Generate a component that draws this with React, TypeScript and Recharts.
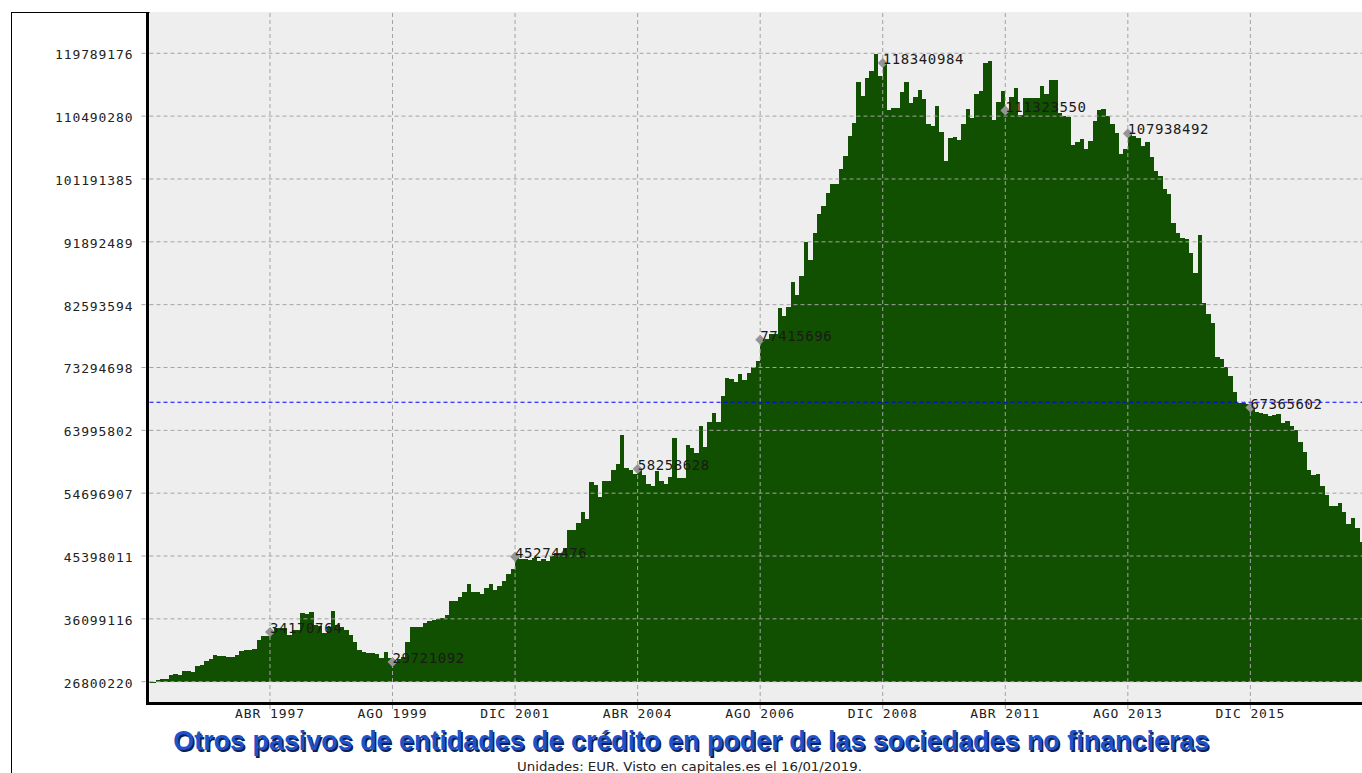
import React from 'react';
import { BarChart, Bar, XAxis, YAxis, CartesianGrid, ReferenceLine, ReferenceDot } from 'recharts';

// ---- data -------------------------------------------------------------
const MONTHS = ['ENE', 'FEB', 'MAR', 'ABR', 'MAY', 'JUN', 'JUL', 'AGO', 'SEP', 'OCT', 'NOV', 'DIC'];
const FIRST_YEAR = 1995; // month index 0 = ENE 1995
const FIRST_T = -1; // first bar is DIC 1994
const BASE = 26800220; // bars rise from this level

const Y_TICKS = [
  26800220, 36099116, 45398011, 54696907, 63995802, 73294698,
  82593594, 91892489, 101191385, 110490280, 119789176,
];
const X_TICKS = [27, 55, 83, 111, 139, 167, 195, 223, 251];
const MARKERS = [27, 55, 83, 111, 139, 167, 195, 223, 251];
const AVERAGE = 68150000;

// monthly values, millions of EUR
const V1994 = [26.7];
const V1995 = [26.7, 27.05, 27.2, 27.25, 27.84, 27.9, 27.84, 28.33, 28.33, 28.23, 29.08, 29.32];
const V1996 = [29.82, 30.21, 30.76, 30.56, 30.56, 30.41, 30.46, 30.71, 31.3, 31.45, 31.5, 31.65];
const V1997 = [33.03, 33.53, 33.63, 34.170764, 34.77, 34.7, 34.7, 33.73, 34.47, 34.47, 36.94, 36.8];
const V1998 = [37.09, 35.21, 35.0, 33.97, 34.96, 37.29, 35.21, 34.9, 34.47, 33.73, 32.74, 31.5];
const V1999 = [31.25, 31.1, 31.0, 30.86, 30.26, 31.25, 30.26, 29.721092, 30.2, 30.5, 32.74, 34.96];
const V2000 = [34.96, 34.9, 35.46, 35.85, 35.95, 36.05, 36.2, 36.7, 38.67, 38.8, 39.4, 40.0];
const V2001 = [41.2, 40.0, 40.0, 39.75, 40.7, 41.2, 40.4, 41.0, 41.7, 42.7, 43.5, 45.274476];
const V2002 = [45.0, 45.0, 44.8, 45.15, 44.66, 44.9, 44.66, 45.4, 45.9, 45.9, 46.63, 49.2];
const V2003 = [49.2, 50.3, 51.9, 50.9, 56.37, 55.98, 54.1, 56.47, 56.47, 58.19, 59.08, 63.26];
const V2004 = [58.44, 58.19, 57.6, 58.258628, 57.45, 56.0, 55.8, 58.0, 56.5, 56.1, 57.1, 62.8];
const V2005 = [56.9, 56.9, 61.8, 61.4, 60.7, 64.7, 61.5, 65.2, 66.5, 65.2, 69.1, 71.8];
const V2006 = [71.6, 71.2, 72.3, 71.5, 72.5, 73.35, 74.3, 77.415696, 77.5, 78.3, 78.3, 82.05];
const V2007 = [80.95, 82.2, 86.0, 84.0, 86.9, 91.8, 89.25, 93.2, 96.0, 97.2, 99.1, 100.5];
const V2008 = [100.4, 102.7, 104.6, 107.5, 109.5, 115.6, 113.5, 116.1, 117.2, 119.7, 116.5, 118.340984];
const V2009 = [111.4, 111.7, 111.7, 114.1, 115.6, 112.5, 113.3, 114.3, 113.0, 109.4, 109.1, 112.0];
const V2010 = [108.1, 103.9, 107.2, 107.4, 106.9, 109.4, 111.5, 110.2, 113.8, 114.2, 118.4, 118.7];
const V2011 = [109.9, 112.6, 114.2, 111.32355, 113.3, 114.6, 110.6, 113.2, 113.2, 113.2, 113.2, 115.0];
const V2012 = [113.7, 115.8, 115.8, 111.0, 110.5, 110.3, 106.2, 106.6, 107.1, 105.6, 106.8, 109.8];
const V2013 = [111.4, 111.6, 110.5, 109.3, 108.0, 104.9, 105.6, 107.938492, 107.5, 107.2, 106.1, 106.7];
const V2014 = [104.4, 102.3, 101.7, 99.7, 98.9, 94.75, 93.2, 92.4, 92.3, 90.3, 87.35, 92.9];
const V2015 = [82.9, 81.2, 79.9, 74.9, 74.5, 73.3, 72.05, 69.6, 68.1, 68.1, 67.9, 67.365602];
const V2016 = [66.7, 66.6, 66.4, 66.1, 66.2, 66.4, 65.1, 65.4, 64.65, 64.1, 62.3, 60.8];
const V2017 = [58.1, 57.4, 57.6, 55.8, 54.5, 52.8, 52.8, 53.2, 51.9, 50.2, 51.0, 49.6];
const V2018 = [47.4];

const SERIES_M = [
  ...V1994, ...V1995, ...V1996, ...V1997, ...V1998, ...V1999, ...V2000, ...V2001,
  ...V2002, ...V2003, ...V2004, ...V2005, ...V2006, ...V2007, ...V2008, ...V2009,
  ...V2010, ...V2011, ...V2012, ...V2013, ...V2014, ...V2015, ...V2016, ...V2017, ...V2018,
];

const valueAt = (t: number) => Math.round(SERIES_M[t - FIRST_T] * 1e6);
const monthLabel = (t: number) =>
  `${MONTHS[((t % 12) + 12) % 12]} ${FIRST_YEAR + Math.floor(t / 12)}`;

// each bar covers its month: from the month's date to the next one
const data = SERIES_M.map((m, k) => ({
  x: FIRST_T + k + 0.5,
  v: [BASE, Math.round(m * 1e6)],
}));

// ---- layout / styling -------------------------------------------------
const W = 1362;
const H = 773;
const PLOT_LEFT = 149.5;
const X_DOMAIN: [number, number] = [-0.525, 276.5];
const MONTH_PX = (W - PLOT_LEFT) / (X_DOMAIN[1] - X_DOMAIN[0]);
const GREEN = '#115000';
const GRID = '#a3a3a3';
const MONO = '"DejaVu Sans Mono", monospace';

const XTick = (props: any) => {
  const { x, y, payload } = props;
  return (
    <text x={x} y={y + 9.3} textAnchor="middle" fontFamily={MONO} fontSize={13}
      letterSpacing={0.9} fill="#222">
      {monthLabel(payload.value)}
    </text>
  );
};

const YTick = (props: any) => {
  const { x, y, payload } = props;
  return (
    <text x={x} y={y + 6} textAnchor="end" fontFamily={MONO} fontSize={13}
      letterSpacing={0.9} fill="#222">
      {String(payload.value)}
    </text>
  );
};

// solid, seam-free bars: each bar spans its full month, edges snapped to pixels
const BarShape = (p: any) => {
  const { x, y, width, height } = p;
  if (x == null || y == null || width == null) return null;
  const cx = x + width / 2;
  const x0 = Math.round(cx - MONTH_PX / 2);
  const x1 = Math.round(cx + MONTH_PX / 2);
  const yA = Math.round(y);
  const yB = Math.round(y + height);
  const top = Math.min(yA, yB);
  const h = Math.max(Math.abs(yB - yA), 1);
  return (
    <rect x={x0} y={top} width={Math.max(x1 - x0, 0)} height={h} fill={GREEN}
      shapeRendering="crispEdges" />
  );
};

const makeMarker = (label: string) => (p: any) => {
  const { cx, cy } = p;
  const s = 5;
  return (
    <g>
      <path d={`M${cx},${cy - s}L${cx + s},${cy}L${cx},${cy + s}L${cx - s},${cy}Z`} fill="#959595" />
      <text x={cx} y={cy + 1} fontFamily={MONO} fontSize={14} letterSpacing={0.6} fill="#1a1a1a">
        {label}
      </text>
    </g>
  );
};

export default function App() {
  return (
    <div style={{ position: 'fixed', left: 0, top: 0, width: W, height: H, overflow: 'hidden', background: '#fff' }}>
      {/* outer frame */}
      <div style={{ position: 'absolute', left: 11, top: 12, width: 1400, height: 800, borderLeft: '1px solid #000', borderTop: '1px solid #000' }} />
      <div style={{ position: 'absolute', left: 0, top: 0 }}>
        <BarChart width={W} height={H} data={data} margin={{ top: 12, right: 0, bottom: 0, left: 0 }}
          barCategoryGap={0} barGap={0}>
          <CartesianGrid horizontal={false} vertical={false} fill="#eeeeee" fillOpacity={1} />
          <XAxis type="number" dataKey="x" domain={X_DOMAIN} allowDataOverflow
            ticks={X_TICKS} interval={0} height={70} axisLine={false}
            tickLine={{ stroke: GRID, strokeDasharray: '4 3' }} tickSize={6} tickMargin={0}
            tick={<XTick />} />
          <YAxis type="number" domain={[23648000, 125900000]} allowDataOverflow ticks={Y_TICKS}
            interval={0} width={PLOT_LEFT} axisLine={false}
            tickLine={{ stroke: GRID, strokeDasharray: '4 3' }} tickSize={8} tickMargin={8}
            tick={<YTick />} />
          <Bar dataKey="v" fill={GREEN} shape={<BarShape />} isAnimationActive={false} />
          {Y_TICKS.map((v) => (
            <ReferenceLine key={`h${v}`} y={v} stroke={GRID} strokeDasharray="4 3" />
          ))}
          {X_TICKS.map((t) => (
            <ReferenceLine key={`v${t}`} x={t} stroke={GRID} strokeDasharray="4 3" />
          ))}
          <ReferenceLine y={AVERAGE} stroke="#0000ff" strokeDasharray="4 3" />
          {MARKERS.map((t) => (
            <ReferenceDot key={`m${t}`} x={t} y={valueAt(t)} r={5}
              shape={makeMarker(String(valueAt(t)))} />
          ))}
        </BarChart>
      </div>
      {/* thick axis lines */}
      <div style={{ position: 'absolute', left: 146, top: 12, width: 3, height: 693, background: '#000' }} />
      <div style={{ position: 'absolute', left: 146, top: 702, width: W - 146, height: 3, background: '#000' }} />
      {/* titles */}
      <svg width={W} height={H} style={{ position: 'absolute', left: 0, top: 0, pointerEvents: 'none' }}>
        <g fontFamily='"Liberation Sans", Arial, sans-serif' fontWeight="bold" fontSize={28}>
          <text x={692.8} y={751.5} textAnchor="middle" textLength={1036} lengthAdjust="spacingAndGlyphs" fill="#0b1f5c">
            Otros pasivos de entidades de crédito en poder de las sociedades no financieras
          </text>
          <text x={691.3} y={750} textAnchor="middle" textLength={1036} lengthAdjust="spacingAndGlyphs" fill="#1f52c8">
            Otros pasivos de entidades de crédito en poder de las sociedades no financieras
          </text>
        </g>
        <text x={689.5} y={771} textAnchor="middle" textLength={345} lengthAdjust="spacingAndGlyphs"
          fontFamily='"DejaVu Sans", sans-serif' fontSize={12} fill="#222">
          Unidades: EUR. Visto en capitales.es el 16/01/2019.
        </text>
      </svg>
    </div>
  );
}
